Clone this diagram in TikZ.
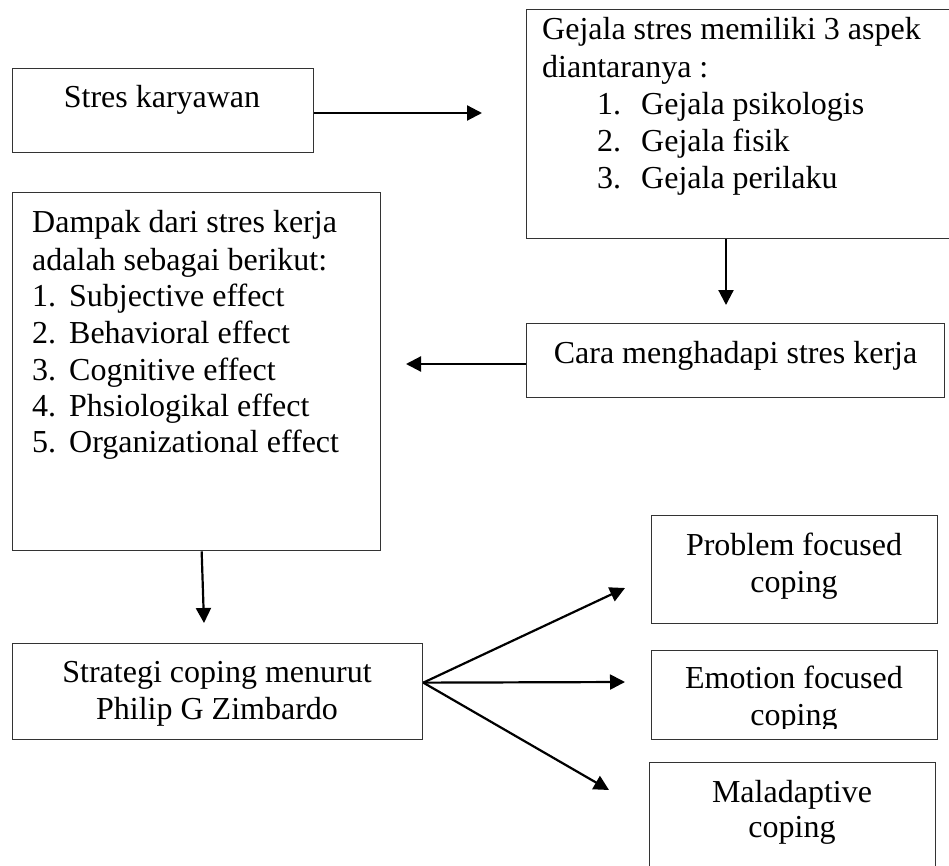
\documentclass[tikz,border=0pt]{standalone}
\usepackage{fontspec}
\setmainfont{Liberation Serif}
\usetikzlibrary{arrows.meta}
\begin{document}
\begin{tikzpicture}[x=1pt,y=-1pt,
  box/.style={draw=black!80, line width=1.3pt, inner sep=0pt, anchor=north west},
  txt/.style={inner sep=0pt, font=\fontsize{32}{37}\selectfont},
  arr/.style={line width=2.2pt, -{Triangle[length=15pt,width=15pt]}}]
\useasboundingbox[fill=white] (0,0) rectangle (949,866);

% boxes
\node[box, minimum width=301pt, minimum height=84pt] (stres) at (12,68) {};
\node[box, minimum width=434pt, minimum height=229pt] (gejala) at (526,9) {};
\node[box, minimum width=368pt, minimum height=358pt] (dampak) at (12,192) {};
\node[box, minimum width=418pt, minimum height=74pt] (cara) at (526,323) {};
\node[box, minimum width=410pt, minimum height=96pt] (strat) at (12,643) {};
\node[box, minimum width=286pt, minimum height=108pt] (prob) at (651,515) {};
\node[box, minimum width=286pt, minimum height=89pt] (emo) at (651,650) {};
\node[box, minimum width=286pt, minimum height=120pt] (mal) at (649,762) {};

% texts
\node[txt, anchor=base] (tstres) at (162,108) {Stres karyawan};

\node[txt, anchor=base west] (tg1) at (542,40) {Gejala stres memiliki 3 aspek};
\node[txt, anchor=base west] (tg2) at (542,77.5) {diantaranya :};
\node[txt, anchor=base west] (tg3) at (597,115) {\makebox[44pt][l]{1.}Gejala psikologis};
\node[txt, anchor=base west] (tg4) at (597,152) {\makebox[44pt][l]{2.}Gejala fisik};
\node[txt, anchor=base west] (tg5) at (597,189) {\makebox[44pt][l]{3.}Gejala perilaku};

\node[txt, anchor=base west] (td1) at (32,233) {Dampak dari stres kerja};
\node[txt, anchor=base west] (td2) at (32,270) {adalah sebagai berikut:};
\node[txt, anchor=base west] (td3) at (32,306) {\makebox[37pt][l]{1.}Subjective effect};
\node[txt, anchor=base west] (td4) at (32,343) {\makebox[37pt][l]{2.}Behavioral effect};
\node[txt, anchor=base west] (td5) at (32,380) {\makebox[37pt][l]{3.}Cognitive effect};
\node[txt, anchor=base west] (td6) at (32,416) {\makebox[37pt][l]{4.}Phsiologikal effect};
\node[txt, anchor=base west] (td7) at (32,452) {\makebox[37pt][l]{5.}Organizational effect};

\node[txt, anchor=base] (tcara) at (735.5,363) {Cara menghadapi stres kerja};

\node[txt, anchor=base] (ts1) at (217,682) {Strategi coping menurut};
\node[txt, anchor=base] (ts2) at (217,719) {Philip G Zimbardo};

\node[txt, anchor=base] (tp1) at (794,555) {Problem focused};
\node[txt, anchor=base] (tp2) at (794,592) {coping};

\node[txt, anchor=base] (te1) at (794,688) {Emotion focused};
\begin{scope}
  \clip (651,650) rectangle (937,728.5);
  \node[txt, anchor=base] (te2) at (794,725) {coping};
\end{scope}

\node[txt, anchor=base] (tm1) at (792,802) {Maladaptive};
\node[txt, anchor=base] (tm2) at (792,837) {coping};

% connectors
\coordinate (sg) at (482,113);
\draw[arr] (sg -| stres.east) -- (sg);
\coordinate (gc) at (726,305);
\draw[arr] (gc |- gejala.south) -- (gc);
\coordinate (cd) at (406,364);
\draw[arr] (cd -| cara.west) -- (cd);
\coordinate (ds) at (204,623);
\draw[arr] ([xshift=5pt]dampak.south) -- (ds);
\coordinate (fo) at ([yshift=9pt]strat.east);
\coordinate (pe) at (625,588);
\coordinate (ee) at (625,682);
\coordinate (me) at (609,790);
\draw[arr] (fo) -- (pe);
\draw[arr] (fo) -- (ee);
\draw[arr] (fo) -- (me);
\end{tikzpicture}
\end{document}
